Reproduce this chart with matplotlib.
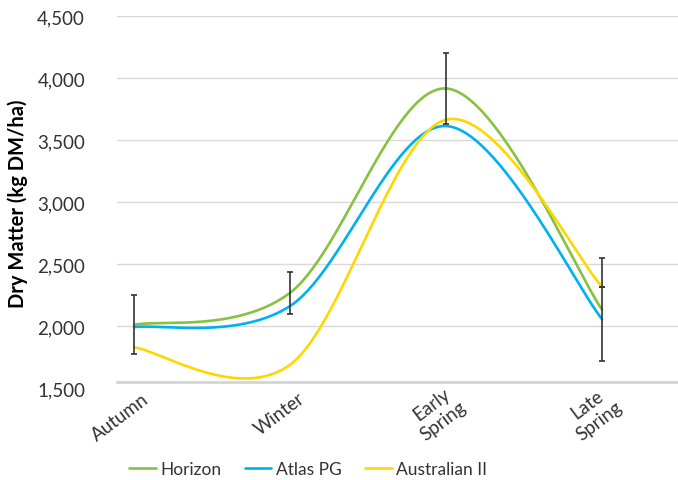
import matplotlib
matplotlib.use("Agg")
import matplotlib.pyplot as plt
import numpy as np

# dados
seasons = ["Autumn", "Winter", "Early\nSpring", "Late\nSpring"]
horizon = [2012, 2270, 3918, 2135]
atlas = [1993, 2163, 3615, 2058]
australian = [1830, 1690, 3666, 2319]
horizon_err = [239, 167, 283, 417]
australian_late_err = 0

yticks = [1500, 2000, 2500, 3000, 3500, 4000, 4500]
axis_cross = 1548  # eixo horizontal cruza um pouco acima de 1.500

plt.rcParams['font.family'] = ['Lato', 'DejaVu Sans']


def excel_smooth(xs, ys, n=60):
    # suavizacao do tipo Excel: Bezier cubica com pontos de controle a 1/6
    xs = np.asarray(xs, float)
    ys = np.asarray(ys, float)
    px = np.concatenate([[xs[0]], xs, [xs[-1]]])
    py = np.concatenate([[ys[0]], ys, [ys[-1]]])
    out_x, out_y = [], []
    t = np.linspace(0, 1, n)
    for i in range(1, len(px) - 2):
        x0, y0 = px[i], py[i]
        x3, y3 = px[i + 1], py[i + 1]
        x1 = x0 + (px[i + 1] - px[i - 1]) / 6
        y1 = y0 + (py[i + 1] - py[i - 1]) / 6
        x2 = x3 - (px[i + 2] - px[i]) / 6
        y2 = y3 - (py[i + 2] - py[i]) / 6
        bx = (1-t)**3*x0 + 3*(1-t)**2*t*x1 + 3*(1-t)*t**2*x2 + t**3*x3
        by = (1-t)**3*y0 + 3*(1-t)**2*t*y1 + 3*(1-t)*t**2*y2 + t**3*y3
        out_x.extend(bx)
        out_y.extend(by)
    return np.array(out_x), np.array(out_y)


fig = plt.figure(figsize=(6.78, 4.81), dpi=100)
ax = fig.add_axes([117/678, 1 - 389.3/481, 1 - 117/678, (389.3 - 17.3)/481])

x = np.arange(len(seasons))
series = [("Horizon", horizon, "#86C140"),
          ("Atlas PG", atlas, "#00B0F0"),
          ("Australian II", australian, "#FFD700")]

for name, vals, color in series:
    sx, sy = excel_smooth(x, vals)
    ax.plot(sx, sy, color=color, lw=1.9, label=name, solid_capstyle='round', zorder=3)

ax.errorbar(x, horizon, yerr=horizon_err, fmt='none', ecolor="#333333",
            elinewidth=1.2, capsize=2.5, capthick=1.2, zorder=4)
ax.errorbar([x[-1]], [australian[-1]], yerr=australian_late_err, fmt='none',
            ecolor="#333333", elinewidth=1.2, capsize=2.5, capthick=1.2, zorder=4)

ax.set_xlim(-0.109, 3.487)
ax.set_ylim(1500, 4500)
ax.set_yticks(yticks)
ax.set_yticklabels([f"{v:,}" for v in yticks])
ax.set_xticks(x)
ax.set_xticklabels([])

# linhas de grade (so acima do eixo horizontal)
for v in yticks:
    if v > axis_cross:
        ax.axhline(v, color="#d9d9d9", lw=1, zorder=1)

for s in ["top", "right", "left"]:
    ax.spines[s].set_visible(False)
ax.spines["bottom"].set_position(('data', axis_cross))
ax.spines["bottom"].set_color("#d4d4d4")
ax.spines["bottom"].set_linewidth(2)
ax.tick_params(axis='both', length=0, labelsize=13.5, labelcolor="#333333")
ax.tick_params(axis='y', pad=23)

# rotulos do eixo x como texto, para poder desloca-los
for xi, lab in zip(x, seasons):
    ax.annotate(lab, xy=(xi, axis_cross), xycoords='data',
                xytext=(9, -10), textcoords='offset points',
                rotation=37, ha='right', va='center', rotation_mode='anchor',
                multialignment='center', fontsize=13.5, color="#333333",
                annotation_clip=False)

ax.set_ylabel("Dry Matter (kg DM/ha)", fontsize=14.5, fontweight='bold')
ax.yaxis.set_label_coords(-0.158, 0.5)

fig.legend(loc='center', bbox_to_anchor=(308/678, 1 - 470/481), ncol=3,
           frameon=False, fontsize=12.5, handlelength=1.55, columnspacing=1.35,
           handletextpad=0.25, labelcolor="#333333")

fig.savefig("out.png", dpi=100)
